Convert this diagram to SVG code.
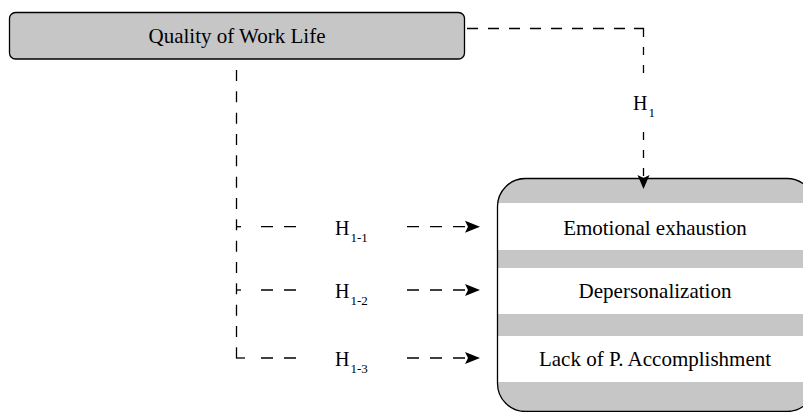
<svg xmlns="http://www.w3.org/2000/svg" width="803" height="412" viewBox="0 0 803 412">
<style>
.t{font-family:"Liberation Serif","Times New Roman",serif;font-size:21px;fill:#000;text-anchor:middle}
.h{font-family:"Liberation Serif","Times New Roman",serif;font-size:20px;fill:#000}
.s{font-size:13px}
.d{fill:none;stroke:#000;stroke-width:1.3}
.arr{fill:#000;stroke:none}
</style>
<rect width="803" height="412" fill="#fff"/>
<g id="qwl">
<rect x="9.5" y="12.5" width="455" height="46.5" rx="6" fill="#c6c6c6" stroke="#000" stroke-width="1.3"/>
<text class="t" x="237" y="43">Quality of Work Life</text>
</g>
<g id="burnout">
<rect x="497.5" y="178.5" width="317.5" height="233" rx="28" fill="#c6c6c6"/>
<rect x="497.5" y="203" width="320" height="47" fill="#fff"/>
<rect x="497.5" y="268" width="320" height="46" fill="#fff"/>
<rect x="497.5" y="336" width="320" height="46" fill="#fff"/>
<rect x="497.5" y="178.5" width="317.5" height="233" rx="28" fill="none" stroke="#000" stroke-width="1.3"/>
<text class="t" x="655" y="235">Emotional exhaustion</text>
<text class="t" x="655" y="298">Depersonalization</text>
<text class="t" x="655" y="366">Lack of P. Accomplishment</text>
</g>
<g id="connectors">
<line class="d" x1="467" y1="28.5" x2="634" y2="28.5" stroke-dasharray="11 10"/>
<polyline class="d" points="634,28.5 643.5,28.5 643.5,37"/>
<line class="d" x1="643.5" y1="47" x2="643.5" y2="75" stroke-dasharray="8 10"/>
<line class="d" x1="643.5" y1="132" x2="643.5" y2="177" stroke-dasharray="8 10"/>
<polygon class="arr" points="643.5,189 637.5,175 643.5,178 649.5,175"/>
<line class="d" x1="236.5" y1="70" x2="236.5" y2="358.3" stroke-dasharray="11 10.333"/>
<line class="d" x1="236" y1="226.7" x2="241" y2="226.7"/>
<line class="d" x1="236" y1="290" x2="241" y2="290"/>
<line class="d" x1="236" y1="358" x2="245" y2="358"/>
<line class="d" x1="261" y1="226.7" x2="296" y2="226.7" stroke-dasharray="12 11"/>
<line class="d" x1="261" y1="290" x2="296" y2="290" stroke-dasharray="12 11"/>
<line class="d" x1="261" y1="358" x2="296" y2="358" stroke-dasharray="12 11"/>
<line class="d" x1="407" y1="226.7" x2="468" y2="226.7" stroke-dasharray="12 11"/>
<line class="d" x1="407" y1="290" x2="468" y2="290" stroke-dasharray="12 11"/>
<line class="d" x1="407" y1="358" x2="468" y2="358" stroke-dasharray="12 11"/>
<polygon class="arr" points="480,226.7 465,220.7 468,226.7 465,232.7"/>
<polygon class="arr" points="480,290 465,284 468,290 465,296"/>
<polygon class="arr" points="480,358 465,352 468,358 465,364"/>
<text class="h" x="633" y="110">H<tspan class="s" dx="1" dy="7">1</tspan></text>
<text class="h" x="335" y="235">H<tspan class="s" dx="1" dy="7">1-1</tspan></text>
<text class="h" x="335" y="298">H<tspan class="s" dx="1" dy="7">1-2</tspan></text>
<text class="h" x="335" y="366">H<tspan class="s" dx="1" dy="7">1-3</tspan></text>
</g>
</svg>
